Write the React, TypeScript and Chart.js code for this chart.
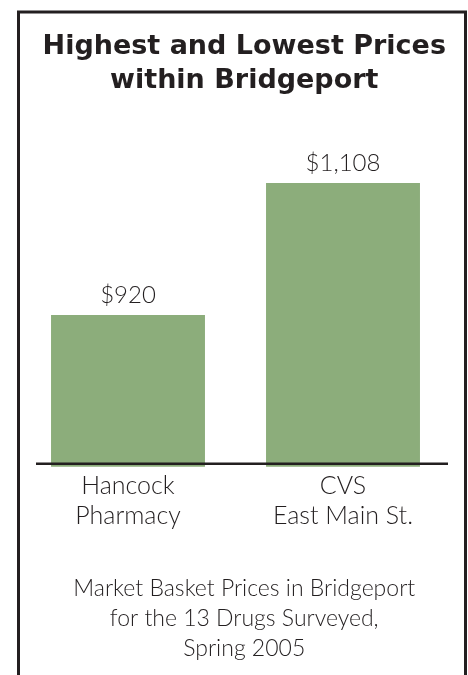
import React, { useEffect, useRef } from "react";
import { Chart, registerables } from "chart.js";

Chart.register(...registerables);

const categories: string[][] = [["Hancock", "Pharmacy"], ["CVS", "East Main St."]];
const prices: number[] = [920, 1108];
const priceLabels: string[] = ["$920", "$1,108"];
const titleLines: string[] = ["Highest and Lowest Prices", "within Bridgeport"];
const captionLines: string[] = [
  "Market Basket Prices in Bridgeport",
  "for the 13 Drugs Surveyed,",
  "Spring 2005",
];

const INK = "#231f20";
const BAR = "#8cad7b";
const LIGHT_FONT = "Lato";

const framePlugin = {
  id: "frame",
  afterDraw(chart: any) {
    const ctx = chart.ctx;
    ctx.save();
    ctx.strokeStyle = INK;
    ctx.lineWidth = 3;
    ctx.beginPath();
    ctx.moveTo(18.5, 675);
    ctx.lineTo(18.5, 12);
    ctx.lineTo(465.5, 12);
    ctx.lineTo(465.5, 675);
    ctx.stroke();
    ctx.restore();
  },
};

const baselinePlugin = {
  id: "baseline",
  afterDatasetsDraw(chart: any) {
    const ctx = chart.ctx;
    const y = chart.chartArea.bottom - 3;
    ctx.save();
    ctx.strokeStyle = INK;
    ctx.lineWidth = 2.5;
    ctx.beginPath();
    ctx.moveTo(36, y);
    ctx.lineTo(448, y);
    ctx.stroke();
    ctx.restore();
  },
};

const valueLabelPlugin = {
  id: "valueLabels",
  afterDatasetsDraw(chart: any) {
    const ctx = chart.ctx;
    const meta = chart.getDatasetMeta(0);
    ctx.save();
    ctx.fillStyle = INK;
    ctx.font = `300 24px ${LIGHT_FONT}`;
    ctx.textAlign = "center";
    ctx.textBaseline = "alphabetic";
    meta.data.forEach((bar: any, i: number) => {
      ctx.fillText(priceLabels[i], bar.x, bar.y - 12);
    });
    ctx.restore();
  },
};

export default function App() {
  const ref = useRef<HTMLCanvasElement | null>(null);

  useEffect(() => {
    document.body.style.margin = "0";
    const canvas = ref.current;
    if (!canvas) return;
    const chart = new Chart(canvas, {
      type: "bar",
      data: {
        labels: categories,
        datasets: [
          {
            data: prices,
            backgroundColor: BAR,
            borderWidth: 0,
            categoryPercentage: 1,
            barPercentage: 0.716,
          },
        ],
      },
      options: {
        responsive: false,
        animation: false,
        devicePixelRatio: 1,
        layout: { padding: { left: 20.5, right: 0, top: 0, bottom: 0 } },
        plugins: {
          legend: { display: false },
          tooltip: { enabled: false },
          title: {
            display: true,
            text: titleLines,
            color: INK,
            font: { family: "'DejaVu Sans'", size: 27, weight: "bold", lineHeight: "34px" },
            padding: { top: 30, bottom: 20.5 },
          },
          subtitle: {
            display: true,
            position: "bottom",
            text: captionLines,
            color: INK,
            font: { family: LIGHT_FONT, size: 23, weight: "300", lineHeight: "29.75px" },
            padding: { top: 10, bottom: 11.65 },
          },
        },
        scales: {
          x: {
            grid: { display: false, drawTicks: false },
            border: { display: false },
            ticks: {
              color: INK,
              padding: 4.3,
              font: { family: LIGHT_FONT, size: 25, weight: "300", lineHeight: "30px" },
            },
            afterFit(scale: any) {
              scale.height = 97.4;
            },
          },
          y: {
            display: true,
            position: "right",
            min: 704,
            max: 1200,
            grid: { display: false, drawTicks: false },
            border: { display: false },
            ticks: { display: false },
            afterFit(scale: any) {
              scale.width = 17.5;
            },
          },
        },
      },
      plugins: [framePlugin, baselinePlugin, valueLabelPlugin],
    });
    return () => chart.destroy();
  }, []);

  return (
    <canvas
      ref={ref}
      width={468}
      height={675}
      style={{ position: "absolute", left: 0, top: 0, width: 468, height: 675 }}
    />
  );
}
